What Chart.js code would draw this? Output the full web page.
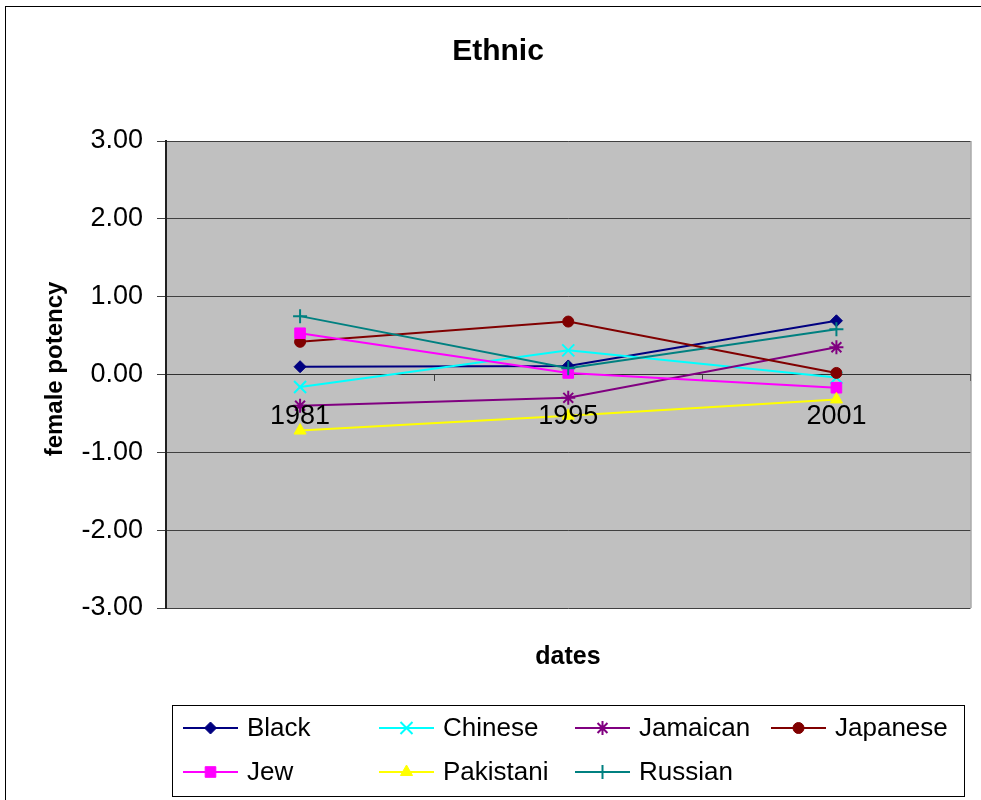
<!DOCTYPE html>
<html>
<head>
<meta charset="utf-8">
<title>Ethnic</title>
<script src="https://cdn.jsdelivr.net/npm/chart.js@4/dist/chart.umd.min.js"></script>
<style>
  body { margin: 0; background: #fff; }
  #wrap { width: 981px; height: 800px; }
</style>
</head>
<body>
<div id="wrap"><canvas id="ethnic" width="981" height="800"></canvas></div>
<script>
var categories = ['1981', '1995', '2001'];
var yTicks = [-3, -2, -1, 0, 1, 2, 3];

var black     = [0.10, 0.11, 0.69];
var chinese   = [-0.16, 0.31, -0.04];
var jamaican  = [-0.40, -0.30, 0.35];
var japanese  = [0.42, 0.68, 0.02];
var jew       = [0.53, 0.02, -0.17];
var pakistani = [-0.72, -0.53, -0.32];
var russian   = [0.75, 0.08, 0.58];

var FONT = '"Liberation Sans", Arial, sans-serif';

function series(label, data, color, style, radius, bw) {
	return {
		label: label,
		data: data,
		borderColor: color,
		backgroundColor: color,
		borderWidth: 2,
		pointStyle: style,
		pointRadius: radius,
		pointHoverRadius: radius,
		pointBackgroundColor: color,
		pointBorderColor: color,
		pointBorderWidth: bw,
		tension: 0,
		fill: false
	};
}

var datasets = [
	series('Black', black, '#000080', 'rectRot', 6, 1),
	series('Chinese', chinese, '#00FFFF', 'crossRot', 8.5, 2),
	series('Jamaican', jamaican, '#800080', 'star', 7, 2),
	series('Japanese', japanese, '#800000', 'circle', 5.5, 1),
	series('Jew', jew, '#FF00FF', 'rect', 7.5, 1),
	series('Pakistani', pakistani, '#FFFF00', 'triangle', 7, 1),
	series('Russian', russian, '#008080', 'cross', 7, 2)
];
// later series paint over earlier ones
datasets.forEach(function(d, i) { d.order = datasets.length - i; });

var decor = {
	id: 'decor',
	beforeDraw: function(chart) {
		var ctx = chart.ctx, a = chart.chartArea;
		ctx.save();
		ctx.fillStyle = '#fff';
		ctx.fillRect(0, 0, chart.width, chart.height);
		ctx.strokeStyle = '#000';
		ctx.lineWidth = 1;
		ctx.strokeRect(5.5, 6.5, 1000, 1000);
		ctx.fillStyle = '#C0C0C0';
		ctx.fillRect(a.left, a.top, a.right - a.left, a.bottom - a.top);
		ctx.restore();
	},
	afterDraw: function(chart) {
		var ctx = chart.ctx, a = chart.chartArea;
		ctx.save();
		// plot frame on the right
		ctx.strokeStyle = '#808080';
		ctx.lineWidth = 1;
		ctx.beginPath();
		ctx.moveTo(a.right + 0.5, a.top);
		ctx.lineTo(a.right + 0.5, a.bottom);
		ctx.stroke();

		ctx.fillStyle = '#000';
		ctx.textAlign = 'center';
		ctx.textBaseline = 'middle';
		ctx.font = 'bold 30px ' + FONT;
		ctx.fillText('Ethnic', 498, 52);
		ctx.font = 'bold 25px ' + FONT;
		ctx.fillText('dates', 568, 657);
		ctx.save();
		ctx.translate(55, 369);
		ctx.rotate(-Math.PI / 2);
		ctx.font = 'bold 24px ' + FONT;
		ctx.fillText('female potency', 0, 0);
		ctx.restore();

		// legend, 4 columns x 2 rows
		ctx.strokeStyle = '#000';
		ctx.lineWidth = 1;
		ctx.strokeRect(172.5, 705.5, 792, 91);
		ctx.font = '26px ' + FONT;
		ctx.textAlign = 'left';
		chart.data.datasets.forEach(function(d, i) {
			var x0 = 183 + (i % 4) * 196;
			var y = 728 + Math.floor(i / 4) * 44;
			ctx.strokeStyle = d.borderColor;
			ctx.lineWidth = 2;
			ctx.beginPath();
			ctx.moveTo(x0, y);
			ctx.lineTo(x0 + 55, y);
			ctx.stroke();
			ctx.fillStyle = d.pointBackgroundColor;
			ctx.lineWidth = d.pointBorderWidth;
			Chart.helpers.drawPoint(ctx, {
				pointStyle: d.pointStyle,
				radius: d.pointRadius,
				borderWidth: d.pointBorderWidth,
				rotation: 0
			}, x0 + 27.5, y);
			ctx.fillStyle = '#000';
			ctx.fillText(d.label, x0 + 64, y + 1);
		});
		ctx.restore();
	}
};

new Chart(document.getElementById('ethnic'), {
	type: 'line',
	data: { labels: categories, datasets: datasets },
	options: {
		responsive: false,
		animation: false,
		layout: { padding: { left: 0, top: 141, right: 9, bottom: 192 } },
		plugins: {
			legend: { display: false },
			title: { display: false },
			tooltip: { enabled: false }
		},
		scales: {
			x: {
				type: 'category',
				position: { y: 0 },
				offset: true,
				grid: { offset: true, drawOnChartArea: false, tickLength: 6, color: '#404040' },
				border: { display: true, color: '#303030', width: 1 },
				// year labels sit on top of the lines
				ticks: { z: 1, color: '#000', font: { family: FONT, size: 27 }, padding: 20, maxRotation: 0 }
			},
			y: {
				min: -3,
				max: 3,
				afterFit: function(scale) { scale.width = 166; },
				afterBuildTicks: function(scale) {
					scale.ticks = yTicks.map(function(v) { return { value: v }; });
				},
				grid: { color: '#404040', tickLength: 9 },
				border: { display: true, color: '#202020', width: 2 },
				ticks: {
					color: '#000',
					font: { family: FONT, size: 27 },
					padding: 14,
					callback: function(v) { return Number(v).toFixed(2); }
				}
			}
		}
	},
	plugins: [decor]
});
</script>
</body>
</html>
